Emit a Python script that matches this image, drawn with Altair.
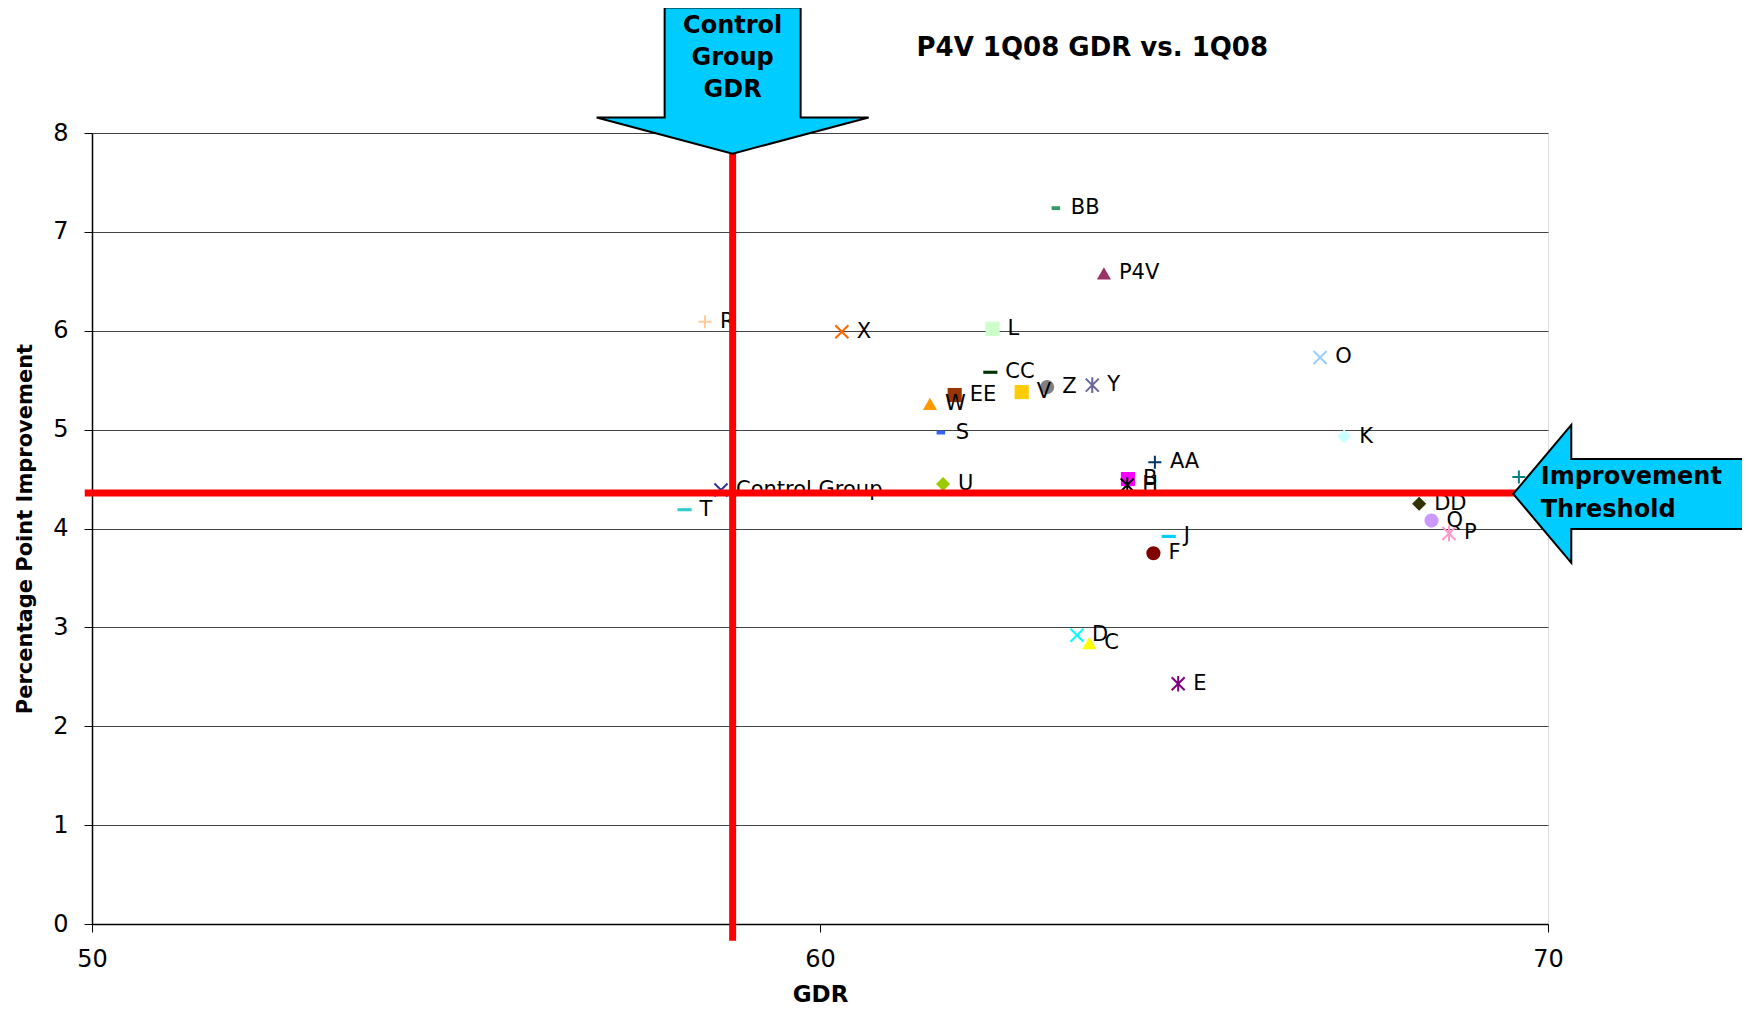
import altair as alt
import pandas as pd

# ---- data ----
names = ["BB", "P4V", "R", "X", "L", "O", "CC", "Z", "Y", "EE", "V", "W", "S", "K",
         "AA", "U", "B", "H", "Control Group", "T", "G", "DD", "Q", "P", "J", "F",
         "D", "C", "E"]
gdr = [63.24, 63.90, 58.42, 60.30, 62.37, 66.87, 62.34, 63.12, 63.74, 61.85, 62.77,
       61.51, 61.66, 67.20, 64.60, 61.69, 64.23, 64.22, 58.64, 58.14, 69.60, 68.23,
       68.40, 68.64, 64.79, 64.58, 63.53, 63.70, 64.92]
improvement = [7.24, 6.58, 6.09, 5.99, 6.02, 5.73, 5.58, 5.43, 5.45, 5.35, 5.38, 5.26,
               4.97, 4.93, 4.67, 4.45, 4.50, 4.44, 4.39, 4.19, 4.52, 4.25, 4.08, 3.95,
               3.92, 3.75, 2.92, 2.84, 2.43]
markers = ["sdash", "triangle", "plus", "x", "square", "x", "dash", "circle", "asterisk",
           "square", "square", "triangle", "sdash", "diamond", "plus", "diamond", "square",
           "asterisk", "x", "dash", "plus", "diamond", "circle", "asterisk", "dash",
           "circle", "x", "triangle", "asterisk"]
colors = ["#339966", "#993366", "#FFCC99", "#FF6600", "#CCFFCC", "#99CCFF", "#003300",
          "#808080", "#666699", "#993300", "#FFCC00", "#FF9900", "#3366FF", "#CCFFFF",
          "#003366", "#99CC00", "#FF00FF", "#000000", "#333399", "#33CCCC", "#008080",
          "#333300", "#CC99FF", "#FF99CC", "#00CCFF", "#800000", "#00FFFF", "#FFFF00",
          "#800080"]

chart_title = "P4V 1Q08 GDR vs. 1Q08"
x_ticks = [50, 60, 70]
y_ticks = [0, 1, 2, 3, 4, 5, 6, 7, 8]
control_gdr = 58.8
improvement_threshold = 4.36

top_arrow_lines = ["Control", "Group", "GDR"]
top_arrow_line_y = [9.08, 8.76, 8.43]
right_arrow_lines = ["Improvement", "Threshold"]
right_arrow_line_y = [4.52, 4.19]

# ---- tables ----
df = pd.DataFrame({"name": names, "gdr": gdr, "improvement": improvement,
                   "marker": markers})

marker_kinds = ["square", "triangle", "diamond", "circle", "dash", "sdash",
                "x", "plus", "asterisk"]
marker_paths = ["square", "triangle-up", "diamond", "circle",
                "M -1 -0.22 L 1 -0.22 L 1 0.22 L -1 0.22 Z",
                "M -0.6 -0.27 L 0.6 -0.27 L 0.6 0.27 L -0.6 0.27 Z",
                "M -1 -1 L 1 1 M -1 1 L 1 -1",
                "M -1 0 L 1 0 M 0 -1 L 0 1",
                "M -1 -1 L 1 1 M -1 1 L 1 -1 M 0 -1.2 L 0 1.2"]
stroked_kinds = ["x", "plus", "asterisk"]

FONT = "DejaVu Sans"

xs = alt.Scale(domain=[50, 70], nice=False, zero=False)
ys = alt.Scale(domain=[0, 8], nice=False, zero=False)

x_axis = alt.Axis(values=x_ticks, format="d", grid=False, title="GDR", tickSize=8,
                  labelPadding=15, titlePadding=12, labelFontSize=24, labelFlush=False,
                  titleFontSize=23, labelFont=FONT, titleFont=FONT,
                  titleFontWeight="bold", labelColor="black", titleColor="black",
                  tickColor="black", domainColor="black", domainWidth=1.5)
y_axis = alt.Axis(values=y_ticks, format="d", grid=True,
                  title="Percentage Point Improvement", labelFlush=False,
                  tickSize=8, labelPadding=16, titlePadding=17, labelFontSize=24,
                  titleFontSize=21, labelFont=FONT, titleFont=FONT,
                  titleFontWeight="bold", labelColor="black", titleColor="black",
                  tickColor="black", domainColor="black", domainWidth=1.5,
                  gridColor="#444444", gridWidth=1)

X = alt.X("gdr:Q", scale=xs, axis=x_axis)
Y = alt.Y("improvement:Q", scale=ys, axis=y_axis)
Xn = alt.X("gdr:Q", scale=xs)
Yn = alt.Y("improvement:Q", scale=ys)

color_enc = alt.Color("name:N", scale=alt.Scale(domain=names, range=colors), legend=None)
shape_enc = alt.Shape("marker:N", scale=alt.Scale(domain=marker_kinds, range=marker_paths),
                      legend=None)

base = alt.Chart(df)

filled_pts = base.mark_point(filled=True, size=200, opacity=1).encode(
    x=X, y=Y, color=color_enc, shape=shape_enc
).transform_filter(~alt.FieldOneOfPredicate(field="marker", oneOf=stroked_kinds))

stroked_pts = base.mark_point(filled=False, size=170, strokeWidth=2, opacity=1).encode(
    x=Xn, y=Yn, color=color_enc, shape=shape_enc
).transform_filter(alt.FieldOneOfPredicate(field="marker", oneOf=stroked_kinds))

labels = base.mark_text(align="left", baseline="middle", dx=15, fontSize=21,
                        font=FONT, color="black").encode(x=Xn, y=Yn, text="name:N")

vline_df = pd.DataFrame({"gdr": [control_gdr], "improvement": [-0.17], "y_end": [8.0]})
hline_df = pd.DataFrame({"gdr": [49.9], "x_end": [69.8],
                         "improvement": [improvement_threshold]})

vline = alt.Chart(vline_df).mark_rule(color="#FF0000", strokeWidth=7).encode(
    x=Xn, y=Yn, y2="y_end:Q")
hline = alt.Chart(hline_df).mark_rule(color="#FF0000", strokeWidth=7).encode(
    x=Xn, x2="x_end:Q", y=Yn)

top_arrow_path = ("M -0.5 -0.537 L 0.5 -0.537 L 0.5 0.272 L 1 0.272 L 0 0.537 "
                  "L -1 0.272 L -0.5 0.272 Z")
right_arrow_path = ("M -1 0 L -0.498 -0.597 L -0.498 -0.303 L 1 -0.303 L 1 0.303 "
                    "L -0.498 0.303 L -0.498 0.597 Z")

top_arrow = alt.Chart(pd.DataFrame({"gdr": [control_gdr], "improvement": [8.53]})).mark_point(
    shape=top_arrow_path, size=272 * 272, filled=True, fill="#00CCFF", stroke="black",
    strokeWidth=2, opacity=1).encode(x=Xn, y=Yn)
right_arrow = alt.Chart(pd.DataFrame({"gdr": [71.11], "improvement": [4.35]})).mark_point(
    shape=right_arrow_path, size=231 * 231, filled=True, fill="#00CCFF", stroke="black",
    strokeWidth=2, opacity=1).encode(x=Xn, y=Yn)

top_text = alt.Chart(pd.DataFrame({"t": top_arrow_lines, "gdr": [control_gdr] * 3,
                                   "improvement": top_arrow_line_y})).mark_text(
    align="center", baseline="middle", fontSize=24, fontWeight="bold", font=FONT,
    color="black").encode(x=Xn, y=Yn, text="t:N")
right_text = alt.Chart(pd.DataFrame({"t": right_arrow_lines, "gdr": [69.9] * 2,
                                     "improvement": right_arrow_line_y})).mark_text(
    align="left", baseline="middle", fontSize=24, fontWeight="bold", font=FONT,
    color="black").encode(x=Xn, y=Yn, text="t:N")

title_text = alt.Chart(pd.DataFrame({"t": [chart_title], "gdr": [63.74],
                                     "improvement": [8.86]})).mark_text(
    align="center", baseline="middle", fontSize=26, fontWeight="bold", font=FONT,
    color="black").encode(x=Xn, y=Yn, text="t:N")

chart = alt.layer(
    filled_pts, stroked_pts, labels, vline, hline, top_arrow, right_arrow, top_text,
    right_text, title_text
).properties(
    width=1456, height=791,
    padding={"left": 84, "top": 125, "right": 194, "bottom": 82},
    autosize=alt.AutoSizeParams(type="none"),
).configure_view(stroke="#404040", strokeWidth=1).configure(background="white")

chart.save("out.html", embed_options={"renderer": "svg", "actions": False})
